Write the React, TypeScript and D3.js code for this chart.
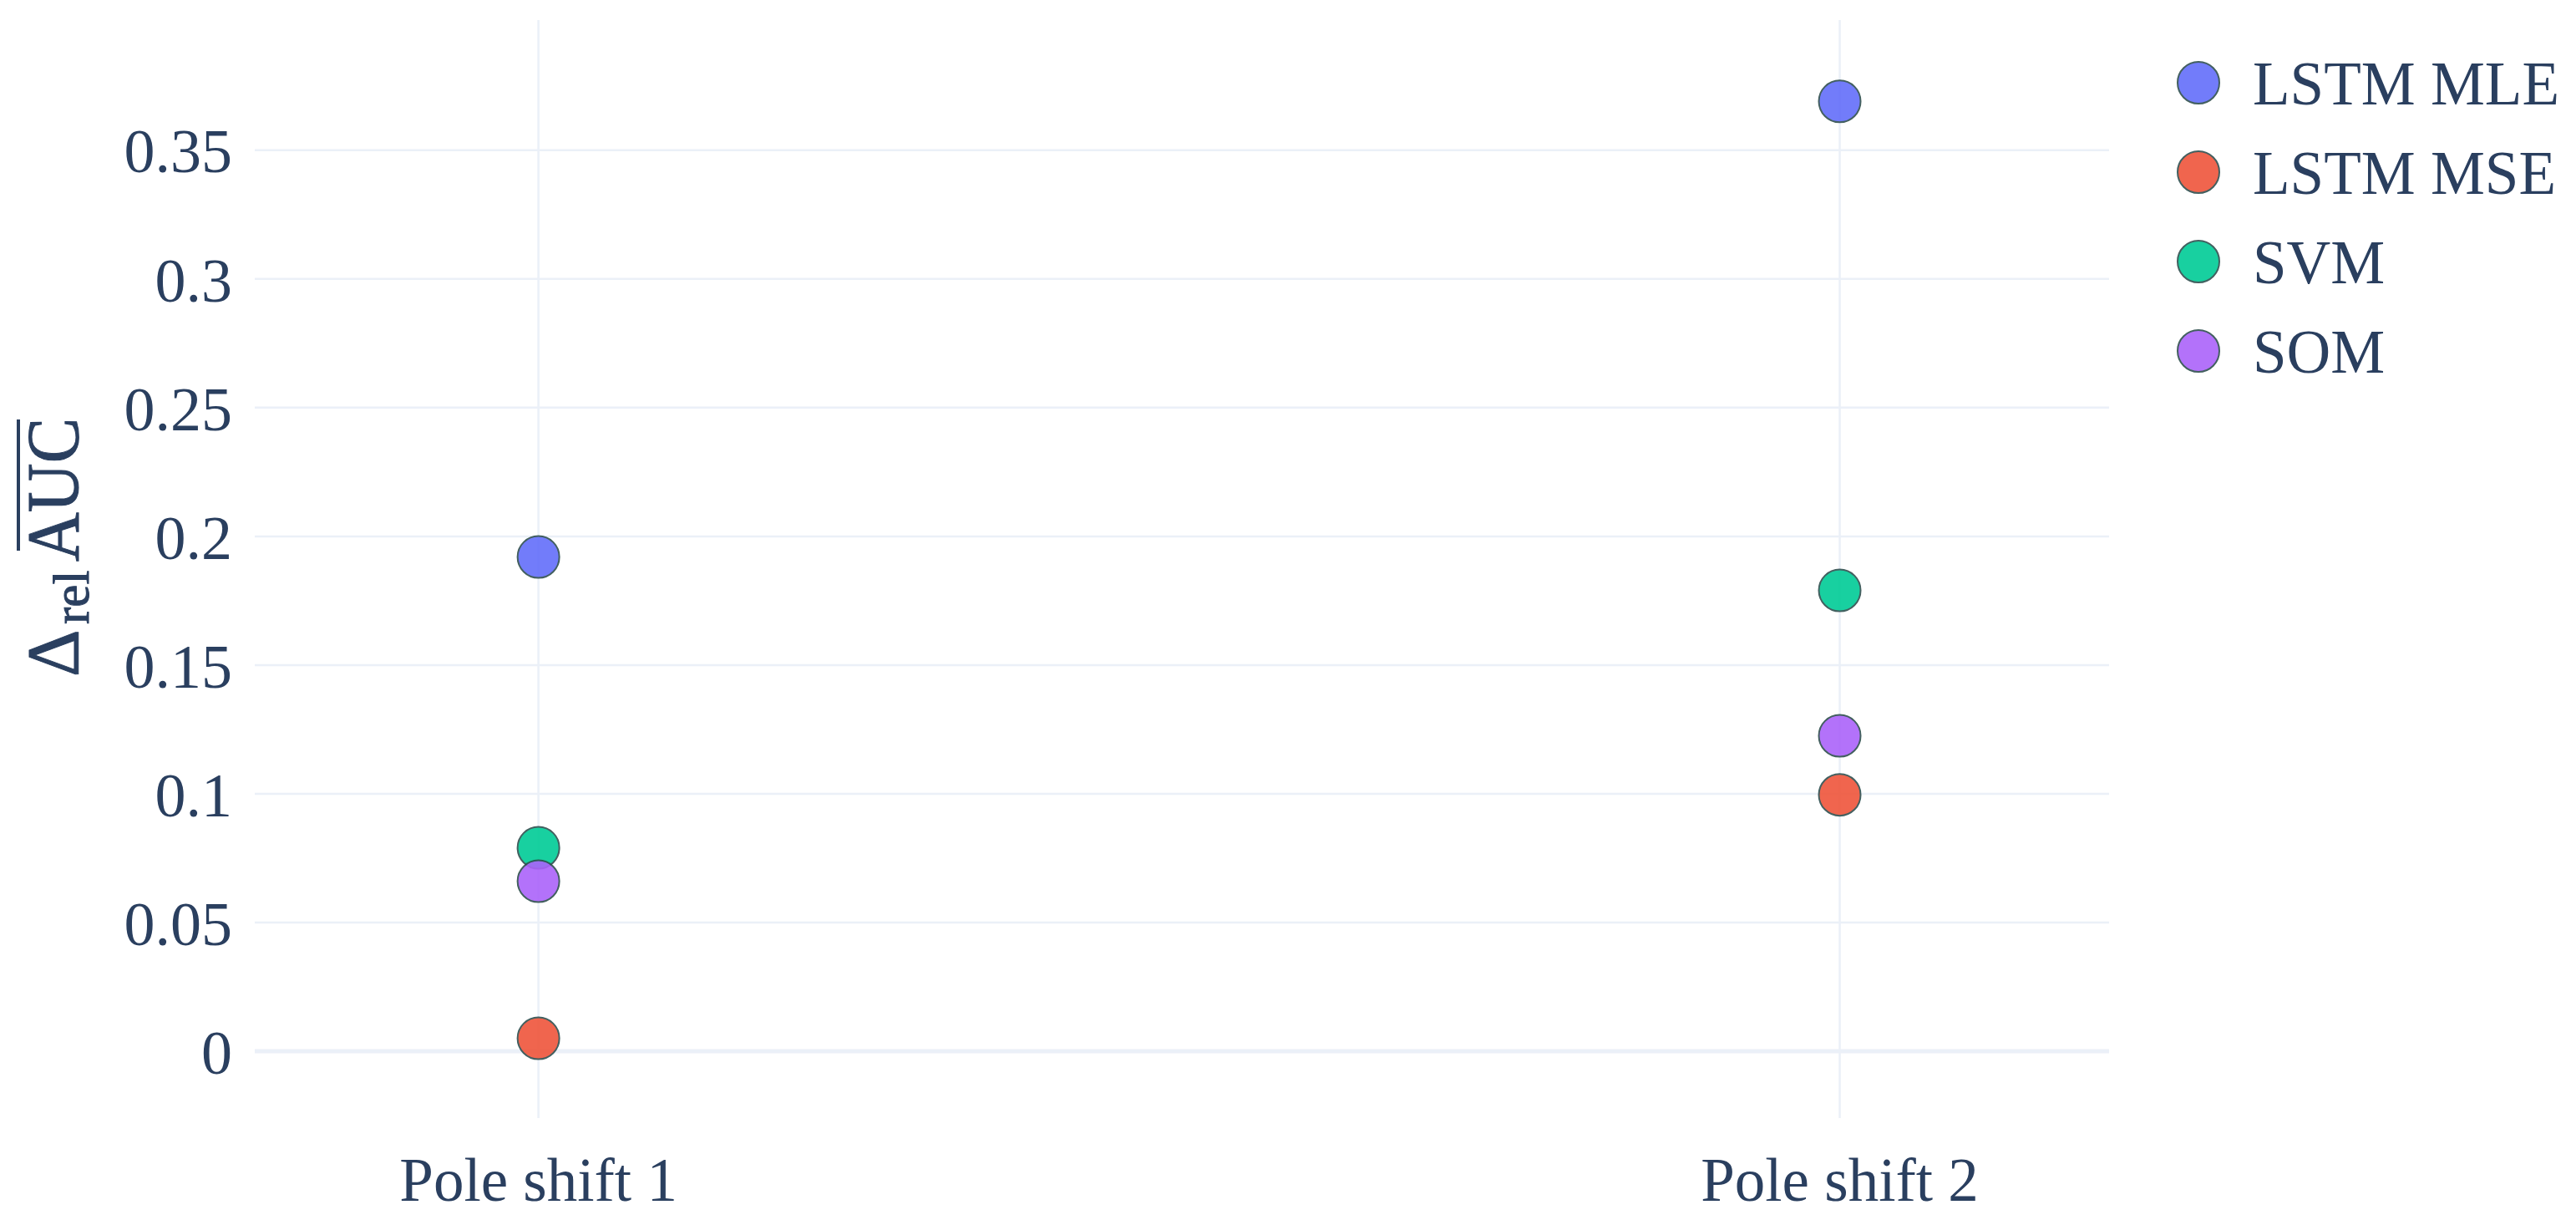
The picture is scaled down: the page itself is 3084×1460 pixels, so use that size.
import React, { useEffect } from 'react';
import * as d3 from 'd3';

// data
const categories = ['Pole shift 1', 'Pole shift 2'];
const seriesNames = ['LSTM MLE', 'LSTM MSE', 'SVM', 'SOM'];
const lstmMle = [0.192, 0.369];
const lstmMse = [0.005, 0.0996];
const svm = [0.079, 0.179];
const som = [0.066, 0.1225];
const yTicks = [0, 0.05, 0.1, 0.15, 0.2, 0.25, 0.3, 0.35];
const yTickLabels = ['0', '0.05', '0.1', '0.15', '0.2', '0.25', '0.3', '0.35'];

const colors = ['#636efa', '#EF553B', '#00cc96', '#ab63fa'];
const seriesValues = [lstmMle, lstmMse, svm, som];

const W = 3084;
const H = 1460;
const margin = { left: 305, right: W - 2525, top: 24, bottom: H - 1338 };
const textColor = '#2a3f5f';
const gridColor = '#EBF0F8';
const font = '"Liberation Serif", "Times New Roman", serif';

export default function App() {
  useEffect(() => {
    document.body.style.margin = '0';
    document.body.style.overflow = 'hidden';
  }, []);

  const x = d3.scaleLinear().domain([-0.218, 1.207]).range([margin.left, W - margin.right]);
  const y = d3.scaleLinear().domain([-0.026, 0.4006]).range([H - margin.bottom, margin.top]);

  // y-label frame: rotated, baseline at x=93, starting at y=810
  const labelX = 93;
  const labelY = 810;

  return (
    <svg width={W} height={H} style={{ display: 'block', background: '#fff' }} fontFamily={font}>
      {/* horizontal grid */}
      {yTicks.filter(t => t !== 0).map(t => (
        <line key={'gy' + t} x1={margin.left} x2={W - margin.right} y1={y(t)} y2={y(t)}
          stroke={gridColor} strokeWidth={2.5} />
      ))}
      {/* vertical grid */}
      {categories.map((c, i) => (
        <line key={'gx' + c} x1={x(i)} x2={x(i)} y1={margin.top} y2={H - margin.bottom}
          stroke={gridColor} strokeWidth={2.5} />
      ))}
      {/* zero line */}
      <line x1={margin.left} x2={W - margin.right} y1={y(0)} y2={y(0)} stroke={gridColor} strokeWidth={5} />

      {/* y tick labels */}
      {yTicks.map((t, i) => (
        <text key={'yt' + t} x={278} y={y(t)} dy="0.36em" textAnchor="end" fontSize={74} fill={textColor}>
          {yTickLabels[i]}
        </text>
      ))}
      {/* x tick labels */}
      {categories.map((c, i) => (
        <text key={'xt' + c} x={x(i)} y={1437} textAnchor="middle" fontSize={73} fill={textColor}>
          {c}
        </text>
      ))}

      {/* markers */}
      {seriesValues.map((vals, s) => (
        <g key={'s' + s} opacity={0.9}>
          {vals.map((v, i) => (
            <circle key={i} cx={x(i)} cy={y(v)} r={25} fill={colors[s]} stroke="#2F4F4F" strokeWidth={2} />
          ))}
        </g>
      ))}

      {/* legend */}
      {seriesNames.map((name, i) => (
        <g key={'lg' + name} transform={`translate(2632, ${99 + i * 107})`}>
          <circle r={25} fill={colors[i]} stroke="#2F4F4F" strokeWidth={2} opacity={0.9} />
          <text x={65} y={0} dy="0.36em" fontSize={73} fill={textColor}>{name}</text>
        </g>
      ))}

      {/* y axis title: Δ_rel overline(AUC) */}
      <g transform={`translate(${labelX}, ${labelY}) rotate(-90)`} fill={textColor} stroke={textColor} strokeWidth={1}>
        <text x={0} y={0} fontSize={88}>Δ</text>
        <text x={63} y={13} fontSize={61}>rel</text>
        <text x={138} y={0} fontSize={88} textLength={172} lengthAdjust="spacingAndGlyphs">AUC</text>
        <line x1={151} x2={308} y1={-71} y2={-71} stroke={textColor} strokeWidth={4} />
      </g>
    </svg>
  );
}
